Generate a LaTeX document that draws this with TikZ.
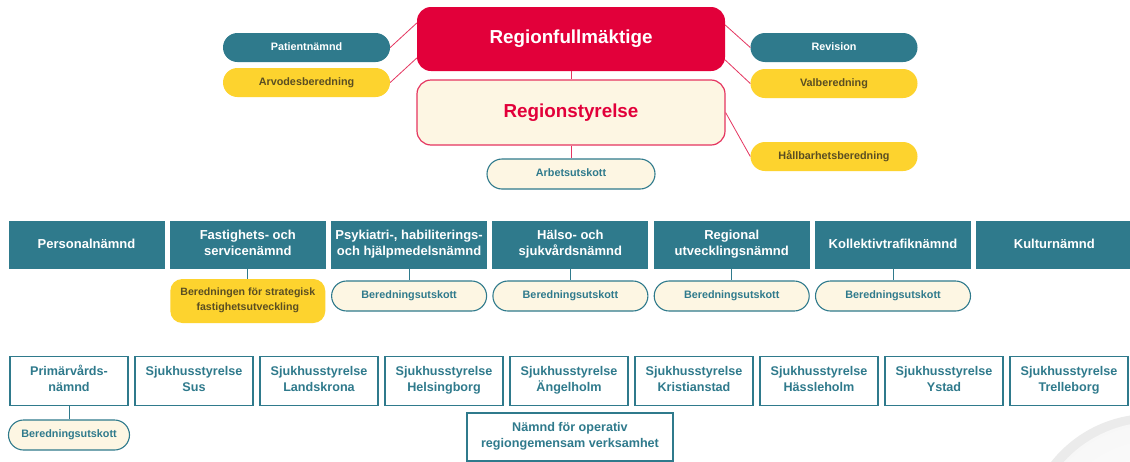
\documentclass[tikz,border=0pt]{standalone}
\usepackage{fontspec}
\setmainfont{Liberation Sans}
\definecolor{teal1}{HTML}{2F7A8C}
\definecolor{red1}{HTML}{E2003A}
\definecolor{cream}{HTML}{FDF6E3}
\definecolor{yel}{HTML}{FDD32E}
\definecolor{yeltext}{HTML}{5A4E22}
\definecolor{pinkline}{HTML}{E53560}
\begin{document}
\begin{tikzpicture}[x=1pt,y=-1pt,
  toptop/.style={rounded corners=14pt, fill=red1, text=white, font=\bfseries\fontsize{18.8}{22}\selectfont, minimum width=308pt, minimum height=64pt, inner sep=0pt},
  topsec/.style={rounded corners=14pt, fill=cream, draw=pinkline, line width=1.2pt, text=red1, font=\bfseries\fontsize{18.8}{22}\selectfont, minimum width=308pt, minimum height=65pt, inner sep=0pt},
  pill/.style={rounded corners=14.5pt, minimum width=167pt, minimum height=29pt, inner sep=0pt, font=\bfseries\fontsize{10.8}{13}\selectfont, execute at begin node=\strut},
  pillT/.style={pill, fill=teal1, text=white},
  pillY/.style={pill, fill=yel, text=yeltext},
  pillC/.style={pill, fill=cream, draw=teal1, line width=1.1pt, text=teal1},
  board/.style={fill=teal1, text=white, minimum width=156pt, minimum height=48pt, inner sep=0pt, align=center, font=\bfseries\fontsize{13}{16}\selectfont, execute at begin node=\strut, execute at end node=\strut},
  sub/.style={pillC, minimum width=155pt, minimum height=30pt, rounded corners=15pt},
  third/.style={draw=teal1, line width=1.5pt, fill=white, text=teal1, minimum width=118pt, minimum height=49pt, inner sep=0pt, align=center, font=\bfseries\fontsize{12.6}{16}\selectfont, execute at begin node=\strut, execute at end node=\strut},
  redln/.style={draw=pinkline, line width=0.8pt},
  tealln/.style={draw=teal1, line width=0.8pt}
]
\useasboundingbox (0,0) rectangle (1130,461);
\fill[white] (0,0) rectangle (1130,461);
% decorative circle
\begin{scope}
\clip (0,0) rectangle (1130,461);
\fill[gray!16] (1150,540) circle (126);
\shade[inner color=white, outer color=gray!6] (1154,544) circle (122);
\end{scope}

% top level
\node[toptop] (rf) at (571,39) {Regionfullmäktige};
\node[topsec] (rs) at (571,112.5) {Regionstyrelse};
\node[pillT] (pat) at (306.5,47.5) {Patientnämnd};
\node[pillY] (arv) at (306.5,82.5) {Arvodesberedning};
\node[pillT] (rev) at (834,47.5) {Revision};
\node[pillY] (val) at (834,83.5) {Valberedning};
\node[pillY] (hal) at (834,156.5) {Hållbarhetsberedning};
\node[pillC, minimum width=168pt, minimum height=30pt, rounded corners=15pt] (arb) at (571,174) {Arbetsutskott};

\draw[redln] (pat.east) -- ([yshift=16pt]rf.west);
\draw[redln] (arv.east) -- ([yshift=-19pt]rf.west);
\draw[redln] ([yshift=14pt]rf.east) -- (rev.west);
\draw[redln] ([yshift=-21pt]rf.east) -- (val.west);
\draw[redln] (rs.east) -- (hal.west);
\draw[redln] (rf.south) -- (rs.north);
\draw[redln] (rs.south) -- (arb.north);

% second row
\node[board] (b1) at (86.5,245) {Personalnämnd};
\node[board] (b2) at (247.8,245) {Fastighets- och\\servicenämnd};
\node[board] (b3) at (409.1,245) {Psykiatri-, habiliterings-\\och hjälpmedelsnämnd};
\node[board] (b4) at (570.4,245) {Hälso- och\\sjukvårdsnämnd};
\node[board] (b5) at (731.7,245) {Regional\\utvecklingsnämnd};
\node[board] (b6) at (893,245) {Kollektivtrafiknämnd};
\node[board] (b7) at (1054.3,245) {Kulturnämnd};

\node[pillY, minimum width=155pt, minimum height=44pt, rounded corners=12pt, align=center, font=\bfseries\fontsize{10.6}{15}\selectfont, execute at end node=\strut] (s2) at (247.8,301) {Beredningen för strategisk\\fastighetsutveckling};
\node[sub] (s3) at (409.1,296) {Beredningsutskott};
\node[sub] (s4) at (570.4,296) {Beredningsutskott};
\node[sub] (s5) at (731.7,296) {Beredningsutskott};
\node[sub] (s6) at (893,296) {Beredningsutskott};
\foreach \i in {2,...,6} {\draw[tealln] (b\i.south) -- (s\i.north);}

% third row
\node[third] (c1) at (69,381) {Primärvårds-\\nämnd};
\node[third] (c2) at (194,381) {Sjukhusstyrelse\\Sus};
\node[third] (c3) at (319,381) {Sjukhusstyrelse\\Landskrona};
\node[third] (c4) at (444,381) {Sjukhusstyrelse\\Helsingborg};
\node[third] (c5) at (569,381) {Sjukhusstyrelse\\Ängelholm};
\node[third] (c6) at (694,381) {Sjukhusstyrelse\\Kristianstad};
\node[third] (c7) at (819,381) {Sjukhusstyrelse\\Hässleholm};
\node[third] (c8) at (944,381) {Sjukhusstyrelse\\Ystad};
\node[third] (c9) at (1069,381) {Sjukhusstyrelse\\Trelleborg};
\node[sub, minimum width=121pt] (p1) at (69,435) {Beredningsutskott};
\draw[tealln] (c1.south) -- (p1.north);
\node[third, minimum width=206pt, minimum height=48pt] (nop) at (570,437) {Nämnd för operativ\\regiongemensam verksamhet};
\end{tikzpicture}
\end{document}
